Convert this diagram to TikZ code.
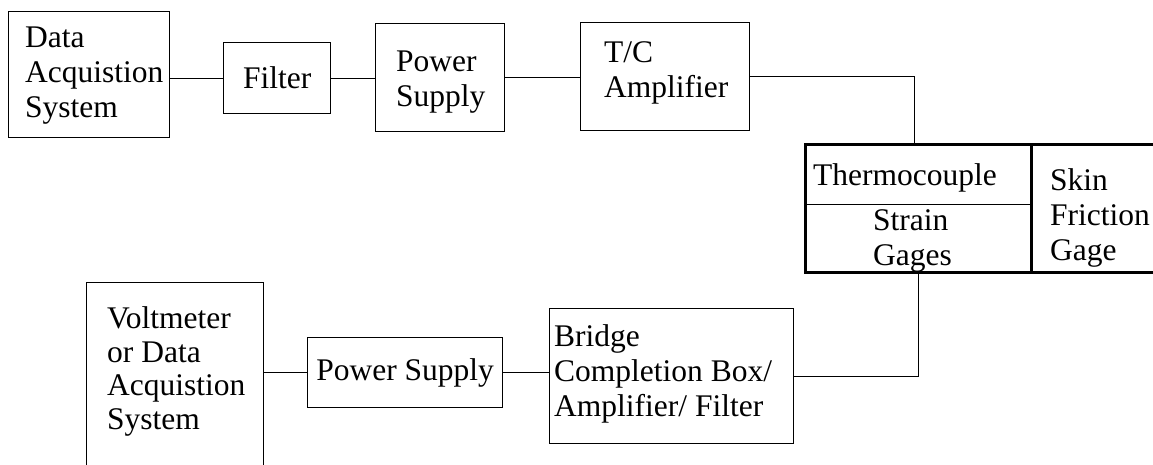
\documentclass[tikz,border=0pt]{standalone}
\usepackage{fontspec}
\setmainfont{Liberation Serif}
\begin{document}
\begin{tikzpicture}[x=1pt,y=-1pt,
  box/.style={draw=black,line width=1.3pt,rectangle,inner sep=0pt,anchor=north west,font=\fontsize{31.5}{35}\selectfont},
  lbl/.style={align=left,inner sep=0pt,anchor=base west,font=\fontsize{31.5}{35}\selectfont},
  wire/.style={draw=black,line width=1.3pt},
  heavy/.style={draw=black,line width=3pt}]
\clip (0,0) rectangle (1153,464);
\fill[white] (0,0) rectangle (1153,464);
% top row
\node[box,minimum width=161pt,minimum height=126pt] (daq) at (8,11) {};
\node[lbl] (daqt) at (25,117) {Data\\Acquistion\\System};
\node[box,minimum width=107pt,minimum height=71pt] (filt) at (223,42) {Filter};
\node[box,minimum width=129pt,minimum height=108pt] (psa) at (375,23) {};
\node[lbl] (psat) at (396,106) {Power\\Supply};
\node[box,minimum width=169pt,minimum height=108pt] (tca) at (580,22) {};
\node[lbl] (tcat) at (604,97) {T/C\\Amplifier};
% sensor block
\node[inner sep=0pt,minimum width=226pt,minimum height=60pt,anchor=north west] (tc) at (805,144) {};
\node[inner sep=0pt,minimum width=226pt,minimum height=68pt,anchor=north west] (sg) at (805,204) {};
\draw[heavy] (tc.north west) rectangle (1175,272);
\draw[heavy] (tc.north east) -- (sg.south east);
\draw[wire] (tc.south west) -- (tc.south east);
\node[lbl] (tct) at (813,185) {Thermocouple};
\node[lbl] (sgt) at (873,265) {Strain\\Gages};
\node[lbl] (sft) at (1050,260) {Skin\\Friction\\Gage};
% bottom row
\node[box,minimum width=177pt,minimum height=200pt] (vdaq) at (86,282) {};
\node[lbl,font=\fontsize{31.5}{33.5}\selectfont] (vdaqt) at (107,429) {Voltmeter\\or Data\\Acquistion\\System};
\node[box,minimum width=195pt,minimum height=70pt] (psb) at (307,337) {Power Supply};
\node[box,minimum width=244pt,minimum height=135pt] (bcb) at (549,308) {};
\node[lbl] (bcbt) at (554,416) {Bridge\\Completion Box/\\Amplifier/ Filter};
% connectors
\draw[wire] (filt.west) -- (filt.west -| daq.east);
\draw[wire] (filt.east) -- (filt.east -| psa.west);
\draw[wire] (psa.east) -- (psa.east -| tca.west);
\draw[wire] (tca.east) -| ([xshift=-4pt]tc.north);
\draw[wire] (bcb.east) -| (sg.south);
\draw[wire] (psb.west) -- (psb.west -| vdaq.east);
\draw[wire] (psb.east) -- (psb.east -| bcb.west);
\end{tikzpicture}
\end{document}
